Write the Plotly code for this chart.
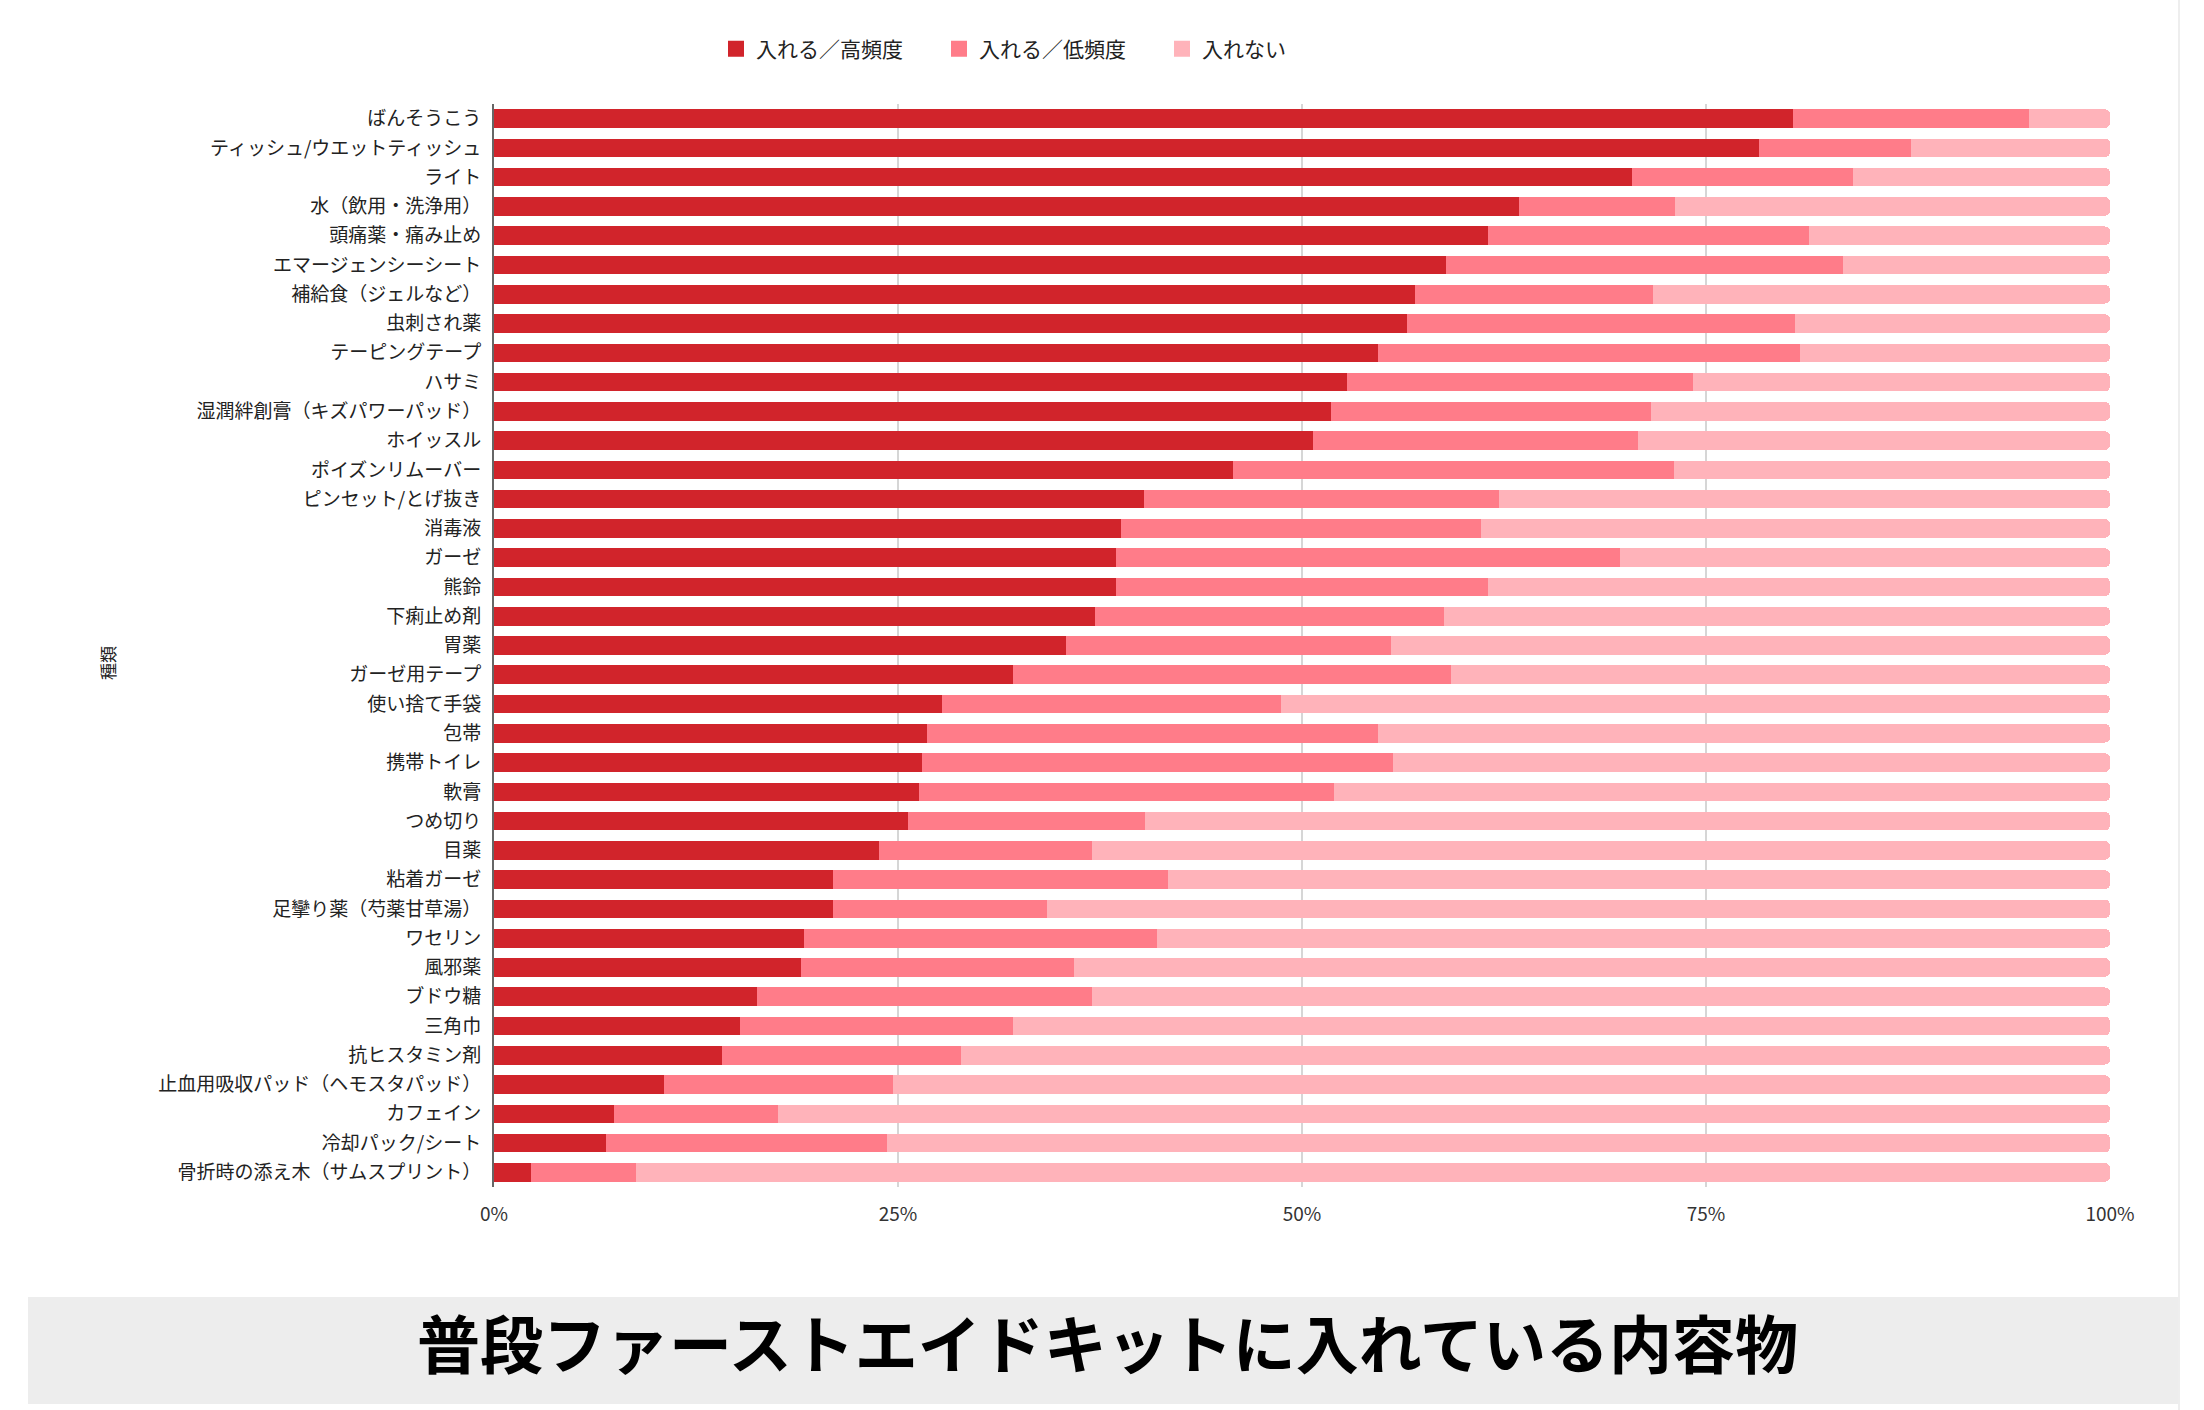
import plotly.graph_objects as go

# 普段ファーストエイドキットに入れている内容物 (%)
items = [
    "ばんそうこう", "ティッシュ/ウエットティッシュ", "ライト", "水（飲用・洗浄用）",
    "頭痛薬・痛み止め", "エマージェンシーシート", "補給食（ジェルなど）", "虫刺され薬",
    "テーピングテープ", "ハサミ", "湿潤絆創膏（キズパワーパッド）", "ホイッスル",
    "ポイズンリムーバー", "ピンセット/とげ抜き", "消毒液", "ガーゼ", "熊鈴", "下痢止め剤",
    "胃薬", "ガーゼ用テープ", "使い捨て手袋", "包帯", "携帯トイレ", "軟膏", "つめ切り",
    "目薬", "粘着ガーゼ", "足攣り薬（芍薬甘草湯）", "ワセリン", "風邪薬", "ブドウ糖",
    "三角巾", "抗ヒスタミン剤", "止血用吸収パッド（ヘモスタパッド）", "カフェイン",
    "冷却パック/シート", "骨折時の添え木（サムスプリント）",
]

high = [80.4, 78.3, 70.4, 63.4, 61.5, 58.9, 57.0, 56.5, 54.7, 52.8, 51.8, 50.7,
        45.7, 40.2, 38.8, 38.5, 38.5, 37.2, 35.4, 32.1, 27.7, 26.8, 26.5, 26.3,
        25.6, 23.8, 21.0, 21.0, 19.2, 19.0, 16.3, 15.2, 14.1, 10.5, 7.4, 6.9, 2.3]
low = [14.6, 9.4, 13.7, 9.7, 19.9, 24.6, 14.7, 24.0, 26.1, 21.4, 19.8, 20.1,
       27.3, 22.0, 22.3, 31.2, 23.0, 21.6, 20.1, 27.1, 21.0, 27.9, 29.1, 25.7,
       14.7, 13.2, 20.7, 13.2, 21.8, 16.9, 20.7, 16.9, 14.8, 14.2, 10.2, 17.4, 6.5]
none = [5.0, 12.3, 15.9, 26.9, 18.6, 16.5, 28.3, 19.5, 19.2, 25.8, 28.4, 29.2,
        27.0, 37.8, 38.9, 30.3, 38.5, 41.2, 44.5, 40.8, 51.3, 45.3, 44.4, 48.0,
        59.7, 63.0, 58.3, 65.8, 59.0, 64.1, 63.0, 67.9, 71.1, 75.3, 82.4, 75.7, 91.2]

series_names = ["入れる／高頻度", "入れる／低頻度", "入れない"]
colors = ["#D1242B", "#FF7C89", "#FFB3BA"]

font_jp = "Noto Sans CJK JP"

fig = go.Figure()
for name, vals, col in zip(series_names, [high, low, none], colors):
    fig.add_trace(go.Bar(y=items, x=vals, name=name, orientation="h", showlegend=False,
                         marker=dict(color=col, line=dict(width=0))))
    # bigger square legend symbol than the bar default
    fig.add_trace(go.Scatter(x=[None], y=[None], mode="markers", name=name,
                             marker=dict(symbol="square", size=16, color=col)))

# pixel -> paper helpers (plot area 494..2110 x 104..1187)
def px_x(p):
    return (p - 494) / 1616

def px_y(p):
    return (1187 - p) / 1083

fig.update_layout(
    width=2204, height=1410,
    margin=dict(l=494, r=94, t=104, b=223),
    barmode="stack", bargap=0.365, barcornerradius=5,
    plot_bgcolor="white", paper_bgcolor="white",
    font=dict(family=font_jp, size=19, color="#222222"),
    legend=dict(orientation="h", x=px_x(716), y=px_y(49), xanchor="left", yanchor="middle",
                font=dict(size=21, color="#222222"), traceorder="normal", itemclick=False,
                entrywidth=178, itemsizing="trace"),
    showlegend=True,
)
fig.update_xaxes(range=[0, 100], tickvals=[0, 25, 50, 75, 100], ticktext=["0%", "25%", "50%", "75%", "100%"],
                 showgrid=True, gridcolor="#D6D6D6", gridwidth=2, zeroline=False, showline=False,
                 tickfont=dict(size=19, color="#333333"), ticks="", ticklabelstandoff=14, fixedrange=True)
fig.update_yaxes(autorange="reversed", showline=True, linecolor="#666666", linewidth=2,
                 ticks="", ticklabelstandoff=7, tickfont=dict(size=19, color="#222222"))

# y axis title
fig.add_annotation(text="種類", x=px_x(107), y=px_y(663), xref="paper", yref="paper",
                   xanchor="center", yanchor="middle",
                   showarrow=False, textangle=-90, font=dict(size=17, color="#222222"))

# gray title band at the bottom
fig.add_shape(type="rect", xref="paper", yref="paper",
              x0=px_x(28), x1=px_x(2178), y0=px_y(1297), y1=px_y(1404),
              fillcolor="#EDEDED", line=dict(width=0), layer="below")
fig.add_shape(type="line", xref="paper", yref="paper",
              x0=px_x(2179), x1=px_x(2179), y0=px_y(0), y1=px_y(1410),
              line=dict(color="#EEEEEE", width=2))
fig.add_annotation(text="<b>普段ファーストエイドキットに入れている内容物</b>",
                   x=px_x(1107), y=px_y(1340), xref="paper", yref="paper", showarrow=False,
                   xanchor="center", yanchor="middle",
                   font=dict(family=font_jp, size=63, color="#000000"))

fig.write_html("out.html", config={"displayModeBar": False},
               post_script="document.body.style.margin='0';")
